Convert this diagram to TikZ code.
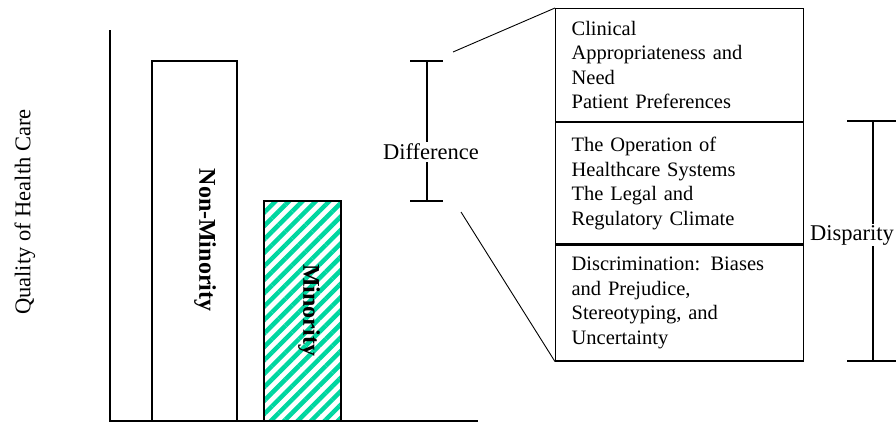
\documentclass[tikz,border=0pt]{standalone}
\usepackage{fontspec}
\setmainfont{Liberation Serif}
\usetikzlibrary{patterns.meta}
\definecolor{stripegreen}{RGB}{0,214,160}
\begin{document}
\begin{tikzpicture}[x=1pt,y=-1pt,line width=1.2pt,
	lab/.style={font=\fontsize{22.5}{24}\selectfont,inner sep=1pt},
	bartext/.style={font=\bfseries\fontsize{24}{26}\selectfont,rotate=-90},
	sect/.style={draw,rectangle,anchor=north west,minimum height=#1,text width=216pt,
		inner xsep=16pt,inner ysep=0pt,align=left,font=\fontsize{20.5}{24.5}\selectfont}]
	\useasboundingbox (0,0) rectangle (896,423);
	%Achsen
	\coordinate (top) at (110,30);
	\coordinate (origin) at (110,421);
	\coordinate (xend) at (478,421);
	\draw (top) -- (origin) -- (xend);
	\node [lab,rotate=90] (quality) at (25,212) {Quality of Health Care};
	%Balken
	\draw (152,421) rectangle (237,61);
	\fill [pattern={Lines[angle=45,distance=9.5pt,line width=4.5pt]},pattern color=stripegreen] (264,421) rectangle (341,201);
	\draw (264,421) rectangle (341,201);
	\node [bartext] (nonmin) at (205,240) {Non-Minority};
	\node [bartext] (minor) at (309,310) {Minority};
	%Difference
	\coordinate (dtop) at (427,61);
	\coordinate (dbot) at (427,201);
	\node [lab] (diff) at (431,152) {Difference};
	\draw ([xshift=-17pt]dtop) -- ([xshift=16pt]dtop);
	\draw ([xshift=-17pt]dbot) -- ([xshift=16pt]dbot);
	\draw (dtop) -- (dtop |- diff.north);
	\draw (dbot) -- (dbot |- diff.south);
	%Kasten
	\node [sect=113pt] (sec1) at (555,8) {Clinical\\Appropriateness and\\Need\\Patient Preferences};
	\node [sect=121pt] (sec2) at (sec1.south west) {The Operation of\\Healthcare Systems\\The Legal and\\Regulatory Climate};
	\node [sect=116pt] (sec3) at (sec2.south west) {Discrimination: Biases\\and Prejudice,\\Stereotyping, and\\Uncertainty};
	%Verbindungslinien
	\coordinate (ztop) at (453,52);
	\coordinate (zbot) at (461,212);
	\draw [line width=0.9pt] (ztop) -- (sec1.north west);
	\draw [line width=0.9pt] (zbot) -- (sec3.south west);
	%Disparity
	\coordinate (ptop) at (873,121);
	\coordinate (pbot) at (873,361);
	\node [lab] (disp) at (852,235) {Disparity};
	\draw ([xshift=-26pt]ptop) -- ([xshift=26pt]ptop);
	\draw ([xshift=-26pt]pbot) -- ([xshift=26pt]pbot);
	\draw (ptop) -- (ptop |- disp.north);
	\draw (pbot) -- (pbot |- disp.south);
\end{tikzpicture}
\end{document}
